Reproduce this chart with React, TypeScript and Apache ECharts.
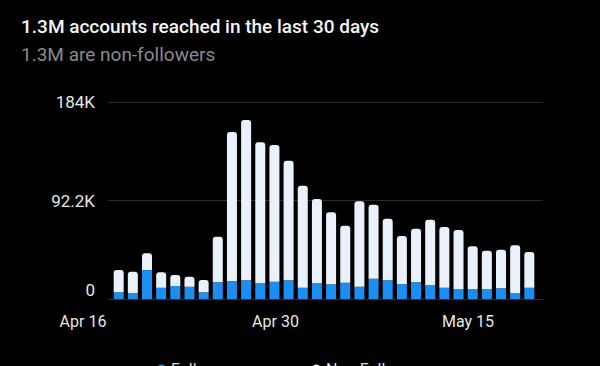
import React, { useEffect, useRef } from "react";
import * as echarts from "echarts";

const titleText = "1.3M accounts reached in the last 30 days";
const subtitleText = "1.3M are non-followers";

const days = [
  "Apr 16", "Apr 17", "Apr 18", "Apr 19", "Apr 20", "Apr 21", "Apr 22", "Apr 23", "Apr 24", "Apr 25",
  "Apr 26", "Apr 27", "Apr 28", "Apr 29", "Apr 30", "May 1", "May 2", "May 3", "May 4", "May 5",
  "May 6", "May 7", "May 8", "May 9", "May 10", "May 11", "May 12", "May 13", "May 14", "May 15",
];

// values in thousands
const followers = [
  6.3, 5.3, 27.1, 10.6, 12.2, 11.5, 6.3, 15.6, 16.8, 17.5,
  14.7, 16.2, 17.5, 10.6, 14.7, 13.8, 15.3, 11.5, 19.0, 17.5,
  14.0, 15.6, 13.1, 10.6, 9.1, 9.1, 9.1, 10.0, 5.3, 10.6,
];
const nonFollowers = [
  20.8, 20.3, 15.7, 14.4, 10.3, 9.4, 11.5, 42.7, 139.5, 150.1,
  132.0, 128.0, 112.0, 95.5, 78.9, 67.4, 53.3, 80.0, 69.3, 57.7,
  45.0, 50.2, 61.1, 56.8, 55.5, 40.2, 36.1, 36.1, 45.0, 33.4,
];

const yTickLabels = ["0", "92.2K", "184K"];
const yStep = 92.2;
const xTickLabels = ["Apr 16", "Apr 30", "May 15"];

export default function App() {
  const ref = useRef<HTMLDivElement>(null);
  useEffect(() => {
    if (!ref.current) return;
    const chart = echarts.init(ref.current, null, { renderer: "svg" });
    const font = "Roboto";
    chart.setOption({
      animation: false,
      backgroundColor: "#000000",
      textStyle: { fontFamily: font },
      title: {
        text: titleText,
        subtext: subtitleText,
        left: 21,
        top: 17,
        padding: 0,
        itemGap: 9,
        textStyle: { color: "#f4f4f4", fontSize: 19, fontWeight: 500, fontFamily: font },
        subtextStyle: { color: "#8a8a8a", fontSize: 19, fontWeight: 400, fontFamily: font },
      },
      legend: {
        data: ["Followers", "Non-Followers"],
        left: 157,
        top: 361,
        padding: 0,
        icon: "circle",
        itemWidth: 9,
        itemHeight: 9,
        itemGap: 72,
        textStyle: { color: "#dddddd", fontSize: 16, fontFamily: font },
      },
      grid: [
        { left: 108, width: 435, top: 102, height: 197 },
        { left: 111.6, width: 424.8, top: 102, height: 197 },
        { left: 83, width: 385, top: 102, height: 197 },
      ],
      xAxis: [
        { gridIndex: 0, type: "value", show: false },
        { gridIndex: 1, type: "category", data: days, show: false },
        {
          gridIndex: 2,
          type: "category",
          data: xTickLabels,
          boundaryGap: false,
          axisLine: { show: false },
          axisTick: { show: false },
          axisLabel: { color: "#e6e6e6", fontSize: 16, margin: 14, fontFamily: font },
        },
      ],
      yAxis: [
        {
          gridIndex: 0,
          type: "value",
          min: 0,
          max: yStep * 2,
          interval: yStep,
          axisLine: { show: false },
          axisTick: { show: false },
          splitLine: { lineStyle: { color: "#2b2b2b", width: 1 } },
          axisLabel: {
            color: "#e6e6e6",
            fontSize: 17,
            margin: 13,
            fontFamily: font,
            formatter: (v: number) => {
              const i = Math.round(v / yStep);
              return i === 0 ? "{z|" + yTickLabels[0] + "}" : yTickLabels[i];
            },
            rich: { z: { fontSize: 17, color: "#e6e6e6", padding: [0, 0, 18, 0], fontFamily: font } },
          },
        },
        { gridIndex: 1, type: "value", min: 0, max: yStep * 2, show: false },
        { gridIndex: 2, type: "value", show: false },
      ],
      series: [
        {
          name: "Followers",
          type: "bar",
          xAxisIndex: 1,
          yAxisIndex: 1,
          stack: "reach",
          barWidth: 10,
          data: followers,
          itemStyle: { color: "#1b8ef2" },
        },
        {
          name: "Non-Followers",
          type: "bar",
          xAxisIndex: 1,
          yAxisIndex: 1,
          stack: "reach",
          barWidth: 10,
          data: nonFollowers,
          itemStyle: { color: "#e9f2fc", borderRadius: [3, 3, 0, 0] },
        },
      ],
    });
    return () => chart.dispose();
  }, []);
  return <div ref={ref} style={{ width: 600, height: 366, position: "fixed", left: 0, top: 0 }} />;
}
